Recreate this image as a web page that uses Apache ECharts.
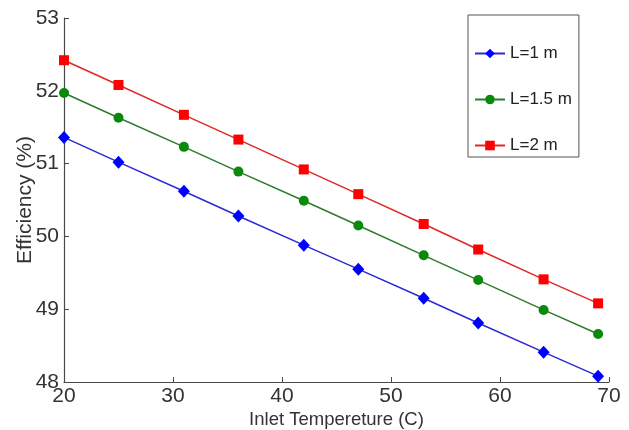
<!DOCTYPE html>
<html>
<head>
<meta charset="utf-8">
<script src="https://cdn.jsdelivr.net/npm/echarts@6/dist/echarts.min.js"></script>
<style>
  html, body { margin: 0; padding: 0; background: #fff; }
  #chart { width: 629px; height: 430px; }
</style>
</head>
<body>
<div id="chart"></div>
<script>
// Inlet temperature (C)
const inletTemp = [20, 25, 31, 36, 42, 47, 53, 58, 64, 69];
// Efficiency (%) for each collector length
const effL1 = [51.36, 51.02, 50.62, 50.28, 49.88, 49.55, 49.15, 48.81, 48.41, 48.08];
const effL15 = [51.97, 51.63, 51.23, 50.89, 50.49, 50.15, 49.74, 49.40, 48.99, 48.66];
const effL2 = [52.42, 52.08, 51.67, 51.33, 50.92, 50.58, 50.17, 49.82, 49.41, 49.08];
const seriesNames = ['L=1 m', 'L=1.5 m', 'L=2 m'];
const xTicks = [20, 30, 40, 50, 60, 70];
const yTicks = [48, 49, 50, 51, 52, 53];

const FONT = '"Liberation Sans", Arial, sans-serif';
const AXIS_COLOR = '#4a4a4a';
const TEXT_COLOR = '#333';

function pairs(ys) {
  return inletTemp.map((x, i) => [x, ys[i]]);
}

const chart = echarts.init(document.getElementById('chart'), null, { renderer: 'canvas' });

chart.setOption({
  animation: false,
  backgroundColor: '#fff',
  grid: {
    left: 64, right: 20, top: 18, bottom: 48,
    containLabel: false,
    outerBoundsMode: 'none'
  },
  xAxis: {
    type: 'value',
    min: xTicks[0],
    max: xTicks[xTicks.length - 1],
    interval: 10,
    name: 'Inlet Tempereture (C)',
    nameLocation: 'middle',
    nameGap: 28,
    nameMoveOverlap: false,
    nameTextStyle: { fontFamily: FONT, fontSize: 18.5, color: TEXT_COLOR },
    axisLine: { show: true, lineStyle: { color: AXIS_COLOR, width: 1.2 } },
    axisTick: { show: true, inside: true, length: 5, lineStyle: { color: AXIS_COLOR } },
    axisLabel: { fontFamily: FONT, fontSize: 21, color: TEXT_COLOR, margin: 4 },
    splitLine: { show: false }
  },
  yAxis: {
    type: 'value',
    min: yTicks[0],
    max: yTicks[yTicks.length - 1],
    interval: 1,
    name: 'Efficiency (%)',
    nameLocation: 'middle',
    nameGap: 28,
    nameMoveOverlap: false,
    nameTextStyle: { fontFamily: FONT, fontSize: 21, color: TEXT_COLOR },
    axisLine: { show: true, lineStyle: { color: AXIS_COLOR, width: 1.2 } },
    axisTick: { show: true, inside: true, length: 5, lineStyle: { color: AXIS_COLOR } },
    axisLabel: { fontFamily: FONT, fontSize: 21, color: TEXT_COLOR, margin: 5 },
    splitLine: { show: false }
  },
  legend: {
    orient: 'vertical',
    left: 468,
    top: 15,
    padding: [30, 7, 3, 6],
    itemGap: 29,
    itemWidth: 30,
    itemHeight: 12,
    borderColor: '#555',
    borderWidth: 1,
    backgroundColor: '#fff',
    textStyle: { fontFamily: FONT, fontSize: 17, color: '#222' },
    data: seriesNames
  },
  series: [
    {
      name: seriesNames[0],
      type: 'line',
      data: pairs(effL1),
      symbol: 'diamond',
      symbolSize: [12, 13],
      itemStyle: { color: '#0000ff' },
      lineStyle: { color: '#2a2ad6', width: 1.5 }
    },
    {
      name: seriesNames[1],
      type: 'line',
      data: pairs(effL15),
      symbol: 'circle',
      symbolSize: 10,
      itemStyle: { color: '#0a8a0a' },
      lineStyle: { color: '#2f7a2f', width: 1.5 }
    },
    {
      name: seriesNames[2],
      type: 'line',
      data: pairs(effL2),
      symbol: 'rect',
      symbolSize: 10,
      itemStyle: { color: '#ff0000' },
      lineStyle: { color: '#e02828', width: 1.5 }
    }
  ]
});
</script>
</body>
</html>
